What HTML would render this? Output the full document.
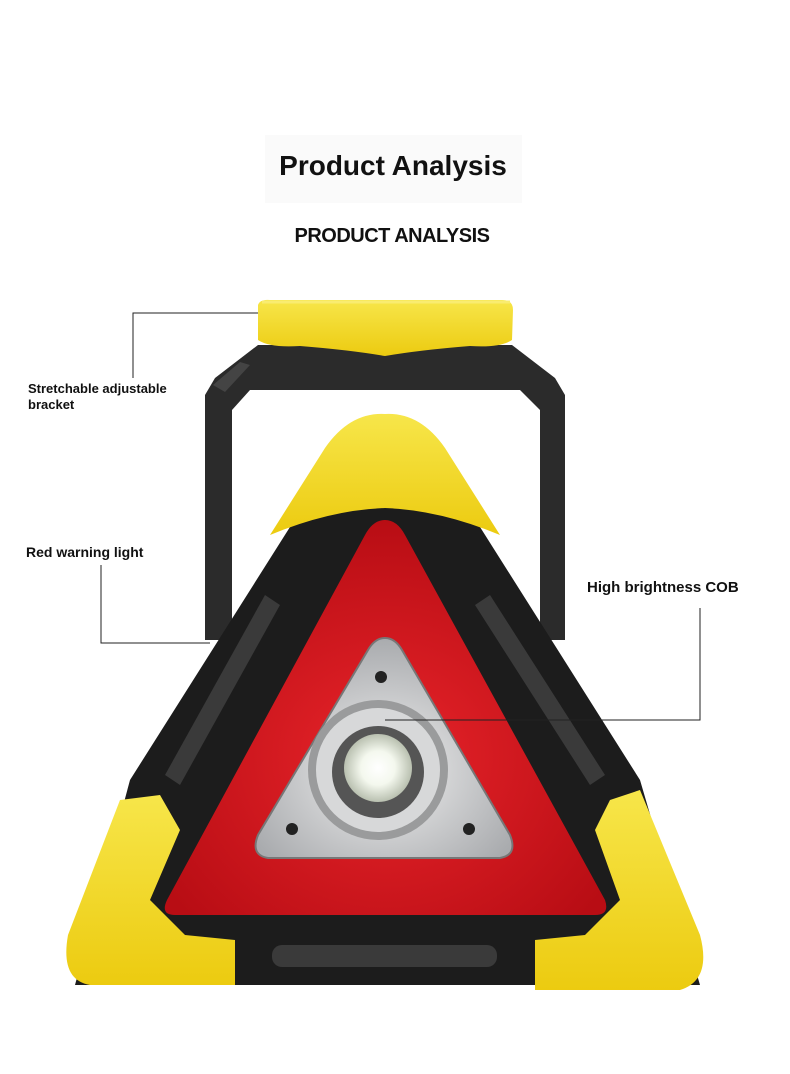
<!DOCTYPE html>
<html><head><meta charset="utf-8"><style>
html,body{margin:0;padding:0;background:#fff;}
body{width:790px;height:1074px;overflow:hidden;}
svg{display:block;}
text{font-family:"Liberation Sans",sans-serif;font-weight:bold;fill:#111;}
</style></head><body>
<svg width="790" height="1074" viewBox="0 0 790 1074" xmlns="http://www.w3.org/2000/svg">
<defs>
<linearGradient id="yel" x1="0" y1="0" x2="0" y2="1"><stop offset="0" stop-color="#f7e64a"/><stop offset="1" stop-color="#eccb10"/></linearGradient>
<radialGradient id="red" cx="0.5" cy="0.6" r="0.6"><stop offset="0" stop-color="#e8242a"/><stop offset="1" stop-color="#b80d14"/></radialGradient>
<radialGradient id="sil" cx="0.5" cy="0.6" r="0.6"><stop offset="0" stop-color="#f0f0f0"/><stop offset="1" stop-color="#a9abae"/></radialGradient>
<radialGradient id="lens" cx="0.5" cy="0.5" r="0.5"><stop offset="0" stop-color="#fff"/><stop offset="0.5" stop-color="#f4f8ee"/><stop offset="1" stop-color="#b9c0b0"/></radialGradient>
</defs>
<rect x="265" y="135" width="257" height="68" fill="#fafafa"/>
<text x="393" y="175" font-size="28" text-anchor="middle">Product Analysis</text>
<text x="392" y="242" font-size="20" text-anchor="middle" letter-spacing="-0.5">PRODUCT ANALYSIS</text>

<path d="M215 378 L258 345 L512 345 L555 378 L565 395 L565 640 L540 640 L540 410 L520 390 L250 390 L232 410 L232 640 L205 640 L205 395 Z" fill="#2b2b2b"/>
<path d="M213 385 L240 362 L250 365 L225 392 Z" fill="#444"/>
<path d="M258 305 Q260 299 270 300 L502 300 Q513 300 513 310 L512 340 Q500 348 470 346 Q420 350 385 356 Q350 350 300 346 Q270 348 258 340 Z" fill="url(#yel)"/>
<path d="M262 302 L510 302" stroke="#f9ec70" stroke-width="3"/>

<path d="M385 418 Q408 416 425 440 L640 780 L700 985 L75 985 L130 780 L345 440 Q362 416 385 418 Z" fill="#1c1c1c"/>
<path d="M385 414 Q420 412 445 448 L500 535 Q440 510 385 508 Q330 510 270 535 L325 448 Q350 412 385 414 Z" fill="url(#yel)"/>
<path d="M120 800 L160 795 L180 830 L150 900 L185 935 L235 940 L235 985 L90 985 Q60 980 68 935 Z" fill="url(#yel)"/>
<path d="M640 790 L610 800 L595 830 L620 900 L585 935 L535 940 L535 990 L680 990 Q712 980 700 935 Z" fill="url(#yel)"/>
<path d="M165 775 L265 595 L280 605 L180 785 Z" fill="#3a3a3a"/>
<path d="M605 775 L490 595 L475 605 L590 785 Z" fill="#3a3a3a"/>
<rect x="272" y="945" width="225" height="22" rx="10" fill="#3a3a3a"/>

<path d="M385 520 Q397 520 405 535 L605 900 Q610 915 595 915 L175 915 Q160 915 167 900 L365 535 Q373 520 385 520 Z" fill="url(#red)"/>
<path d="M385 638 Q395 638 402 650 L510 835 Q518 855 500 858 L268 858 Q250 855 258 835 L368 650 Q375 638 385 638 Z" fill="url(#sil)" stroke="#777" stroke-width="2"/>
<circle cx="381" cy="677" r="6" fill="#222"/>
<circle cx="292" cy="829" r="6" fill="#222"/>
<circle cx="469" cy="829" r="6" fill="#222"/>
<circle cx="378" cy="770" r="70" fill="#9a9b9c"/>
<circle cx="378" cy="770" r="62" fill="#d7d8d9"/>
<circle cx="378" cy="772" r="46" fill="#555"/>
<circle cx="378" cy="768" r="34" fill="url(#lens)"/>

<g stroke="#222" stroke-width="1" fill="none">
<polyline points="133,378 133,313 258,313"/>
<polyline points="101,565 101,643 210,643"/>
<polyline points="700,608 700,720 385,720"/>
</g>
<text x="28" y="393" font-size="13">Stretchable adjustable</text>
<text x="28" y="409" font-size="13">bracket</text>
<text x="26" y="557" font-size="14">Red warning light</text>
<text x="587" y="592" font-size="15">High brightness COB</text>
</svg>
</body></html>
